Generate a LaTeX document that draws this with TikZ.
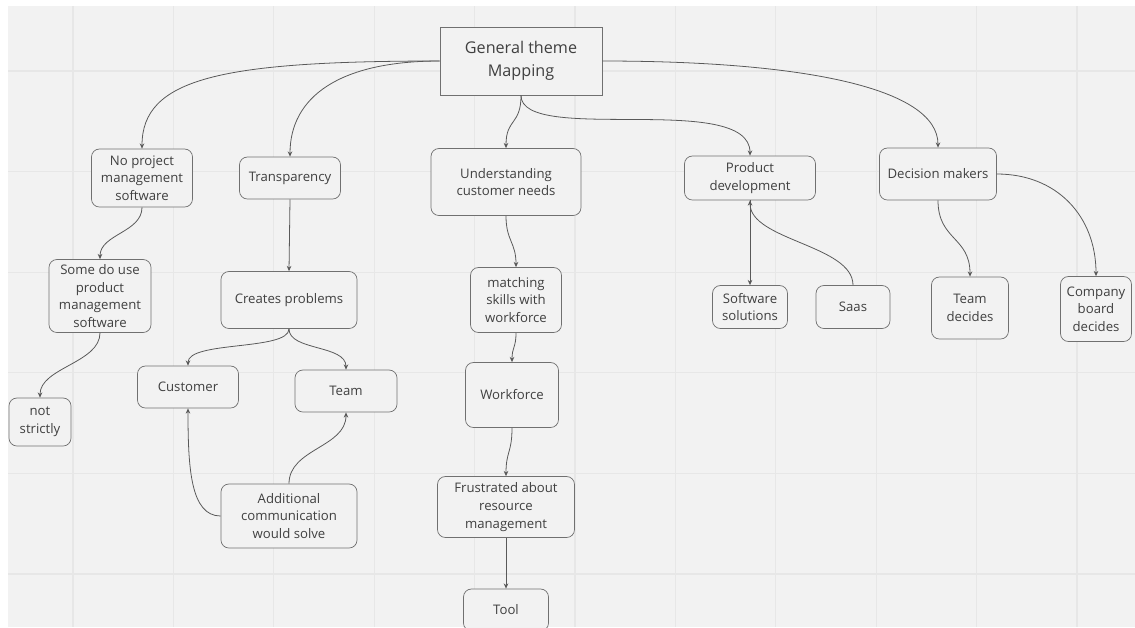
\documentclass[tikz,border=0pt]{standalone}
\usepackage{fontspec}
\setmainfont{Open Sans}
\usetikzlibrary{arrows.meta,positioning}
\definecolor{canvas}{HTML}{F2F2F2}
\definecolor{gridline}{HTML}{E7E7E7}
\definecolor{ink}{HTML}{404040}
\definecolor{edge}{HTML}{595959}
\definecolor{frame}{HTML}{707070}

\begin{document}
\begin{tikzpicture}[x=0.02cm, y=-0.02cm,
    bubble/.style 2 args={draw=frame, fill=canvas, rounded corners=4.5pt, align=center, text=ink,
      font=\fontsize{7.5}{10}\selectfont, inner sep=1pt,
      minimum width=#1*0.02cm, minimum height=#2*0.02cm},
    link/.style={draw=edge, line width=0.45pt, -{Stealth[length=3pt,width=2.6pt]}}]
  \useasboundingbox (0,0) rectangle (1135,627);
  \clip (0,0) rectangle (1135,627);
  % canvas and grid
  \fill[white] (0,0) rectangle (1135,627);
  \fill[canvas] (8,6) rectangle (1135,627);
  \foreach \k in {0,...,10} \draw[gridline, line width=0.6pt] ({73+100.4*\k},6) -- ({73+100.4*\k},627);
  \foreach \k in {0,...,5} \draw[gridline, line width=0.6pt] (8,{71+100.6*\k}) -- (1135,{71+100.6*\k});

  % nodes
  \node[draw=frame, fill=canvas, align=center, text=ink, font=\fontsize{9.2}{13}\selectfont,
    minimum width=162*0.02cm, minimum height=68*0.02cm] (root) at (521,61) {General theme\\Mapping};
  \node[bubble={101}{58}] (noproj) at (142,178) {No project\\management\\software};
  \node[bubble={101}{42}] (transp) at (290,178) {Transparency};
  \node[bubble={150}{67}] (custneeds) at (506,182) {Understanding\\customer needs};
  \node[bubble={131}{44}] (proddev) at (750,178) {Product\\development};
  \node[bubble={117}{52}] (decide) at (938,174) {Decision makers};
  \node[bubble={102}{73}] (someuse) at (100,296) {Some do use\\product\\management\\software};
  \node[bubble={136}{57}] (problems) at (289,300) {Creates problems};
  \node[bubble={91}{65}] (matching) at (516,300) {matching\\skills with\\workforce};
  \node[bubble={75}{43}] (softsol) at (750,307) {Software\\solutions};
  \node[bubble={74}{43}] (saas) at (853,307) {Saas};
  \node[bubble={77}{62}] (teamdec) at (970,308) {Team\\decides};
  \node[bubble={71}{65}] (board) at (1096,309) {Company\\board\\decides};
  \node[bubble={62}{48}] (strictly) at (40,422) {not\\strictly};
  \node[bubble={101}{42}] (customer) at (188,387) {Customer};
  \node[bubble={102}{42}] (team) at (346,391) {Team};
  \node[bubble={93}{65}] (workforce) at (512,395) {Workforce};
  \node[bubble={136}{64}] (addcomm) at (289,516) {Additional\\communication\\would solve};
  \node[bubble={137}{61}] (frustrated) at (506,507) {Frustrated about\\resource\\management};
  \node[bubble={85}{42}] (tool) at (506,610) {Tool};

  % connectors
  \draw[link] (root.west) .. controls +(-220,0) and +(0,-70) .. (noproj.north);
  \draw[link] (root.west) .. controls +(-100,0) and +(0,-60) .. (transp.north);
  \draw[link] (root.south) .. controls +(0,30) and +(0,-30) .. (custneeds.north);
  \draw[link] (root.south) .. controls +(0,50) and +(0,-65) .. (proddev.north);
  \draw[link] (root.east) .. controls +(200,0) and +(0,-60) .. (decide.north);
  \draw[link] (noproj.south) .. controls +(0,25) and +(0,-25) .. (someuse.north);
  \draw[link] (transp.south) -- (problems.north);
  \draw[link] (custneeds.south) .. controls +(0,25) and +(0,-25) .. (matching.north);
  \draw[link] (proddev.south) -- (softsol.north);
  \draw[link] (saas.north) .. controls +(0,-40) and +(0,40) .. (proddev.south);
  \draw[link] (decide.south) .. controls +(0,40) and +(0,-40) .. (teamdec.north);
  \draw[link] (decide.east) .. controls +(60,0) and +(0,-60) .. (board.north);
  \draw[link] (someuse.south) .. controls +(0,30) and +(0,-30) .. (strictly.north);
  \draw[link] (problems.south) .. controls +(0,22) and +(0,-25) .. (customer.north);
  \draw[link] (problems.south) .. controls +(0,22) and +(0,-25) .. (team.north);
  \draw[link] (addcomm.west) .. controls +(-30,0) and +(0,60) .. (customer.south);
  \draw[link] (addcomm.north) .. controls +(0,-35) and +(0,35) .. (team.south);
  \draw[link] (matching.south) .. controls +(0,15) and +(0,-15) .. (workforce.north);
  \draw[link] (workforce.south) .. controls +(0,25) and +(0,-25) .. (frustrated.north);
  \draw[link] (frustrated.south) -- (tool.north);
\end{tikzpicture}
\end{document}
